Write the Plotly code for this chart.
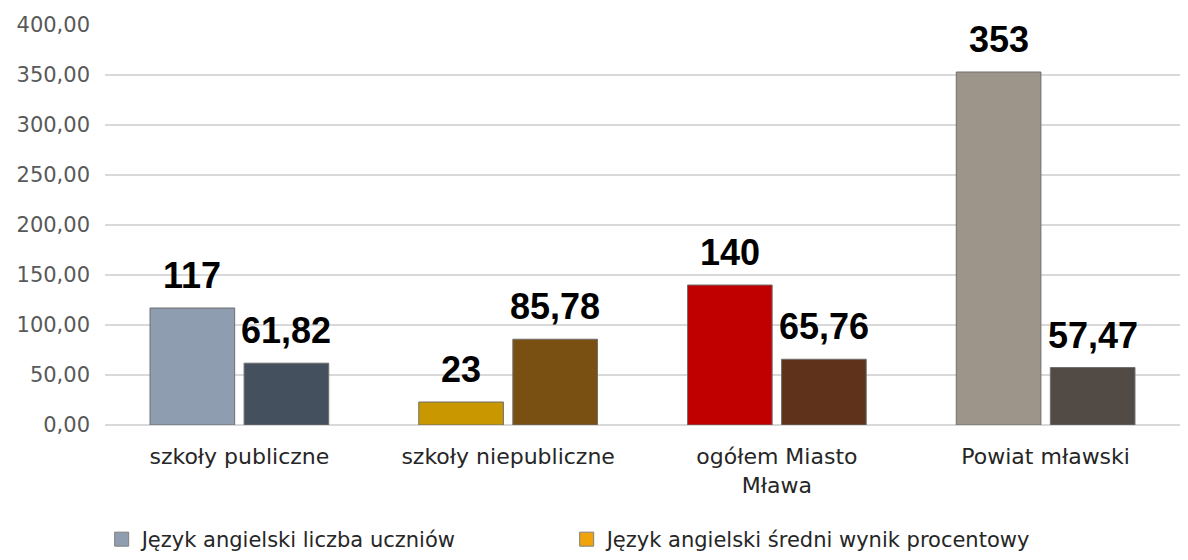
import plotly.graph_objects as go

# Kategorie i wartości
categories = ["szkoły publiczne", "szkoły niepubliczne", "ogółem Miasto<br>Mława", "Powiat mławski"]
liczba_uczniow = [117, 23, 140, 353]
sredni_wynik = [61.82, 85.78, 65.76, 57.47]

series_names = ["Język angielski liczba uczniów", "Język angielski średni wynik procentowy"]
colors_uczniowie = ["#8E9DAF", "#C99700", "#C00000", "#9E958A"]
colors_wynik = ["#44505E", "#7A5012", "#5E321B", "#524A44"]
legend_colors = ["#8E9DAF", "#F0A30A"]

y_ticks = [0, 50, 100, 150, 200, 250, 300, 350, 400]

fig = go.Figure()

bar_line = dict(color="#6f6f6f", width=1)

fig.add_trace(go.Bar(
    x=categories, y=liczba_uczniow, name=series_names[0],
    marker=dict(color=colors_uczniowie, line=bar_line),
    showlegend=False,
))
fig.add_trace(go.Bar(
    x=categories, y=sredni_wynik, name=series_names[1],
    marker=dict(color=colors_wynik, line=bar_line),
    showlegend=False,
))

# Legenda z kwadratowymi znacznikami
for name, col in zip(series_names, legend_colors):
    fig.add_trace(go.Scatter(
        x=[None], y=[None], mode="markers", name=name,
        marker=dict(symbol="square", size=14, color=col, line=dict(color="#7f7f7f", width=1)),
    ))

# Etykiety wartości nad słupkami
bargap, groupgap = 0.3, 0.1
slot = (1 - bargap) / 2
offsets = [-slot / 2, slot / 2]
label_font = dict(family="Liberation Sans, Arial, sans-serif", size=36, color="#000000")
for i in range(len(categories)):
    for k, (vals, fmt) in enumerate([(liczba_uczniow, "{:.0f}"), (sredni_wynik, "{:.2f}")]):
        txt = fmt.format(vals[i]).replace(".", ",")
        fig.add_annotation(
            x=i + offsets[k], y=vals[i], xref="x", yref="y",
            text="<b>" + txt + "</b>", showarrow=False,
            yanchor="bottom", yshift=10, font=label_font,
        )

base_font = "'DejaVu Sans', sans-serif"

fig.update_layout(
    width=1188, height=560,
    margin=dict(l=105, r=8, t=25, b=135),
    paper_bgcolor="white", plot_bgcolor="white",
    barmode="group", bargap=bargap, bargroupgap=groupgap,
    separators=", ",
    font=dict(family=base_font, color="#404040"),
    legend=dict(
        orientation="h", xref="container", x=0.477, xanchor="center",
        yref="container", y=-0.01, yanchor="bottom",
        font=dict(family=base_font, size=21, color="#262626"),
        entrywidth=420, entrywidthmode="pixels", traceorder="normal",
    ),
    xaxis=dict(
        type="category", showgrid=False, showline=False, ticks="",
        ticklabelstandoff=16,
        tickfont=dict(family=base_font, size=22, color="#262626"),
    ),
    yaxis=dict(
        range=[0, 400], tickvals=y_ticks, tickformat=".2f",
        showgrid=True, gridcolor="#D9D9D9", gridwidth=2,
        zeroline=True, zerolinecolor="#D9D9D9", zerolinewidth=2,
        showline=False, ticks="", ticklen=0, ticklabelstandoff=14,
        tickfont=dict(family=base_font, size=21, color="#595959"),
    ),
)

fig.write_html("out.html")
